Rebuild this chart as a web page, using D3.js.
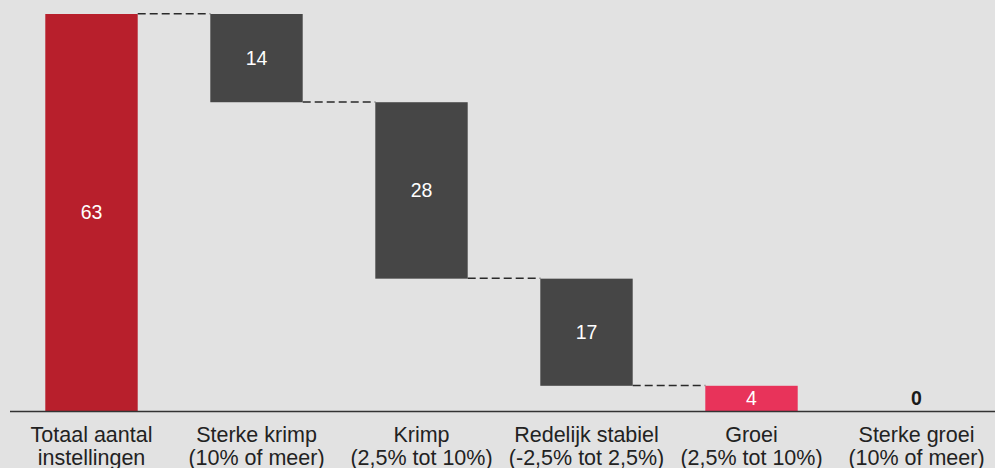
<!DOCTYPE html>
<html><head><meta charset="utf-8">
<script src="https://cdn.jsdelivr.net/npm/d3@7"></script>
<style>
html,body{margin:0;padding:0;background:#e2e2e2;}
svg{display:block;}
text{font-family:"Liberation Sans",Arial,Helvetica,sans-serif;}
</style></head>
<body><svg id="c" width="995" height="468"></svg>
<script>
const categories = [
  ["Totaal aantal","instellingen"],
  ["Sterke krimp","(10% of meer)"],
  ["Krimp","(2,5% tot 10%)"],
  ["Redelijk stabiel","(-2,5% tot 2,5%)"],
  ["Groei","(2,5% tot 10%)"],
  ["Sterke groei","(10% of meer)"]
];
const values = [63, 14, 28, 17, 4, 0];
const kinds = ["total","down","down","down","down","down"];
const colors = ["#b81f2c","#464646","#464646","#464646","#e8335a","#e8335a"];

const W = 995, H = 468;
const svg = d3.select("#c");
svg.append("rect").attr("width",W).attr("height",H).attr("fill","#e2e2e2");

let run = 0;
const data = values.map((v,i)=>{
  let y0,y1;
  if(kinds[i]==="total"){ y0=0; y1=v; run=v; }
  else { y1=run; y0=run-v; run=y0; }
  return {i, v, y0, y1, cat:categories[i], color:colors[i]};
});

const x = d3.scaleBand().domain(d3.range(values.length)).range([9,999]).paddingInner(0.44).paddingOuter(0.22);
const y = d3.scaleLinear().domain([0,63]).range([411,14]);

// connectors
for(let k=0;k<data.length-1;k++){
  const a=data[k], b=data[k+1];
  if(b.v===0) continue;
  const lvl = b.y1;
  svg.append("line")
    .attr("x1",x(a.i)+x.bandwidth()).attr("x2",x(b.i))
    .attr("y1",y(lvl)-0.3).attr("y2",y(lvl)-0.3)
    .attr("stroke","#2a2a2a").attr("stroke-width",1.5).attr("stroke-dasharray","8,4");
}

svg.selectAll("rect.bar").data(data.filter(d=>d.v>0)).enter().append("rect")
  .attr("class","bar")
  .attr("x",d=>x(d.i)).attr("width",x.bandwidth())
  .attr("y",d=>y(d.y1)).attr("height",d=>y(d.y0)-y(d.y1))
  .attr("fill",d=>d.color);

// axis baseline
svg.append("line").attr("x1",10).attr("x2",995).attr("y1",y(0)+0.5).attr("y2",y(0)+0.5)
  .attr("stroke","#333").attr("stroke-width",1.6);

// value labels
svg.selectAll("text.val").data(data).enter().append("text")
  .attr("class","val")
  .attr("x",d=>x(d.i)+x.bandwidth()/2)
  .attr("y",d=> d.v>0 ? (y(d.y0)+y(d.y1))/2 : y(0)-13)
  .attr("dy","0.35em")
  .attr("text-anchor","middle")
  .attr("font-size",19.5)
  .attr("font-weight",d=>d.v>0?"normal":"bold")
  .attr("fill",d=>d.v>0?"#ffffff":"#1a1a1a")
  .text(d=>d.v);

// category labels
const xAxis = d3.axisBottom(x).tickSize(0).tickFormat(()=> "");
const g = svg.append("g").attr("transform",`translate(0,${y(0)})`).call(xAxis);
g.select(".domain").remove();
g.selectAll(".tick").each(function(d){
  const t = d3.select(this).append("text").attr("text-anchor","middle")
    .attr("fill","#222").attr("font-size",21.5)
    .attr("font-family","'Liberation Sans',Arial,sans-serif");
  categories[d].forEach((line,j)=>{
    t.append("tspan").attr("x",0).attr("y",31 + j*22.5).text(line);
  });
});
</script></body></html>
